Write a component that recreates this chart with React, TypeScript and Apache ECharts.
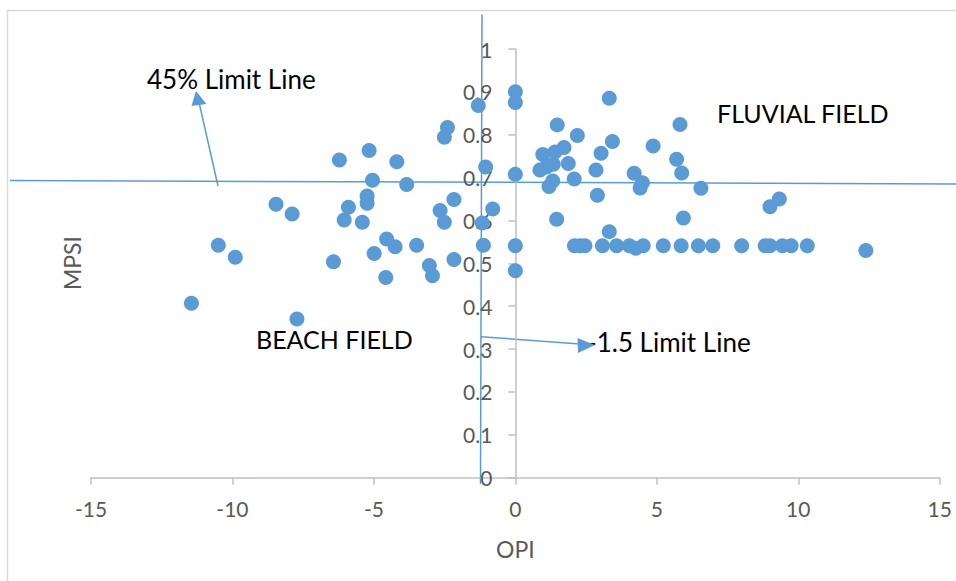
import React, { useEffect, useRef } from "react";
import * as echarts from "echarts";

// OPI (x) values
const opi: number[] = [
  // beach field side
  -11.45, -10.5, -9.9, -7.72, -8.46, -7.89, -6.22, -5.17, -4.19, -5.05, -3.84, -2.4, -2.51, -1.31,
  -2.17, -2.66, -2.51, -5.24, -5.24, -5.9, -6.05, -5.41, -4.55, -4.25, -3.49, -4.99, -6.43, -4.58,
  -3.04, -2.93, -2.17, -1.05, -0.8, -1.17, -1.13,
  // zero column
  0, 0, 0, 0, 0,
  // fluvial field side
  0.97, 1.4, 1.72, 0.87, 1.34, 1.1, 1.48, 2.19, 1.87, 2.08, 1.32, 1.19, 1.46, 2.85, 3.03, 3.43,
  3.32, 2.9, 3.32, 4.2, 4.49, 4.41, 4.87, 5.7, 5.82, 5.88, 6.56, 5.94, 9.0, 9.33,
  // bottom row
  2.09, 2.29, 2.46, 3.08, 3.58, 4.03, 4.26, 4.52, 5.23, 5.86, 6.47, 6.98, 8.0, 8.83, 9.0, 9.44,
  9.75, 10.32, 12.39,
];

// MPSI (y) values
const mpsi: number[] = [
  0.407, 0.542, 0.514, 0.37, 0.638, 0.615, 0.741, 0.763, 0.737, 0.694, 0.684, 0.817, 0.794, 0.868,
  0.649, 0.623, 0.596, 0.657, 0.64, 0.631, 0.601, 0.596, 0.557, 0.539, 0.542, 0.523, 0.504, 0.467,
  0.495, 0.471, 0.509, 0.725, 0.627, 0.594, 0.542,
  0.9, 0.875, 0.708, 0.541, 0.483,
  0.754, 0.76, 0.77, 0.718, 0.731, 0.725, 0.823, 0.798, 0.733, 0.697, 0.692, 0.679, 0.603, 0.718,
  0.757, 0.784, 0.885, 0.659, 0.574, 0.71, 0.688, 0.676, 0.774, 0.743, 0.824, 0.711, 0.675, 0.606,
  0.632, 0.65,
  0.541, 0.541, 0.541, 0.541, 0.541, 0.541, 0.535, 0.541, 0.541, 0.541, 0.541, 0.541, 0.541, 0.541,
  0.541, 0.541, 0.541, 0.541, 0.53,
];

const xTicks = { min: -15, max: 15, interval: 5 };
const yTicks = { min: 0, max: 1, interval: 0.1 };

const xTitle = "OPI";
const yTitle = "MPSI";
const annotations = {
  limit45: "45% Limit Line",
  limit15: "-1.5 Limit Line",
  fluvial: "FLUVIAL FIELD",
  beach: "BEACH FIELD",
};

const FONT = "Lato, 'Open Sans', sans-serif";
const BLUE = "#5B9BD5";
const GREY_TEXT = "#595959";
const AXIS_GREY = "#BFBFBF";

const GRID_LEFT = 91;
const GRID_RIGHT = 16.3;

export default function App() {
  const ref = useRef<HTMLDivElement>(null);

  useEffect(() => {
    if (!ref.current) return;
    const chart = echarts.init(ref.current, undefined, { renderer: "svg" });
    const data = opi.map((x, i) => [x, mpsi[i]]);
    // place the y axis where x = 0 (crossing axes, as in the source chart)
    const plotW = 956 - GRID_LEFT - GRID_RIGHT;
    const zeroOffset = ((0 - xTicks.min) / (xTicks.max - xTicks.min)) * plotW;
    const annoText = (text: string, x: number, y: number, size = 26) => ({
      type: "text",
      x,
      y,
      z: 10,
      style: {
        text,
        fill: "#000000",
        font: `${size}px ${FONT}`,
        textAlign: "left",
        textVerticalAlign: "middle",
      },
    });
    chart.setOption({
      animation: false,
      backgroundColor: "#ffffff",
      grid: { left: GRID_LEFT, right: GRID_RIGHT, top: 49, bottom: 103.3, containLabel: false },
      xAxis: {
        type: "value",
        min: xTicks.min,
        max: xTicks.max,
        interval: xTicks.interval,
        name: xTitle,
        nameLocation: "middle",
        nameGap: 60,
        nameTextStyle: { color: GREY_TEXT, fontSize: 23, fontFamily: FONT },
        axisLine: { show: true, onZero: true, lineStyle: { color: AXIS_GREY, width: 1.5 } },
        axisTick: { show: true, inside: false, length: 7, lineStyle: { color: AXIS_GREY, width: 1.5 } },
        axisLabel: { color: GREY_TEXT, fontSize: 21, fontFamily: FONT, margin: 20 },
        splitLine: { show: false },
      },
      yAxis: {
        type: "value",
        position: "left",
        offset: -zeroOffset,
        min: yTicks.min,
        max: yTicks.max,
        interval: yTicks.interval,
        axisLine: { show: true, onZero: false, lineStyle: { color: AXIS_GREY, width: 1.5 } },
        axisTick: { show: true, inside: false, length: 7, lineStyle: { color: AXIS_GREY, width: 1.5 } },
        axisLabel: { color: GREY_TEXT, fontSize: 21, fontFamily: FONT, margin: 23 },
        splitLine: { show: false },
      },
      series: [
        {
          type: "scatter",
          data,
          symbol: "circle",
          symbolSize: 15,
          itemStyle: { color: BLUE, opacity: 1 },
          z: 3,
        },
      ],
      graphic: [
        {
          type: "rect",
          z: -1,
          shape: { x: 7.5, y: 10.5, width: 1000, height: 1000 },
          style: { fill: "none", stroke: "#D9D9D9", lineWidth: 1.5 },
        },
        {
          type: "line",
          shape: { x1: 10, y1: 180.5, x2: 956, y2: 184 },
          style: { stroke: BLUE, lineWidth: 1.5 },
        },
        {
          type: "line",
          shape: { x1: 482, y1: 14.5, x2: 480.5, y2: 484 },
          style: { stroke: BLUE, lineWidth: 1.5 },
        },
        {
          type: "line",
          shape: { x1: 218, y1: 186, x2: 198.5, y2: 100 },
          style: { stroke: BLUE, lineWidth: 1.5 },
        },
        {
          type: "polygon",
          z: 11,
          shape: { points: [[196, 91], [191.5, 106], [206.5, 104]] },
          style: { fill: BLUE },
        },
        {
          type: "line",
          shape: { x1: 481, y1: 336.7, x2: 580, y2: 344 },
          style: { stroke: BLUE, lineWidth: 1.5 },
        },
        {
          type: "polygon",
          z: 11,
          shape: { points: [[595, 345], [577.5, 338], [578, 353]] },
          style: { fill: BLUE },
        },
        annoText(annotations.limit45, 147, 79),
        annoText(annotations.limit15, 587, 342),
        annoText(annotations.fluvial, 717, 113, 25),
        annoText(annotations.beach, 256, 339, 25),
        {
          type: "text",
          x: 72,
          y: 263,
          rotation: Math.PI / 2,
          z: 10,
          style: {
            text: yTitle,
            fill: GREY_TEXT,
            font: `23px ${FONT}`,
            textAlign: "center",
            textVerticalAlign: "middle",
          },
        },
      ],
    });
    return () => chart.dispose();
  }, []);

  return (
    <div
      ref={ref}
      style={{ position: "fixed", left: 0, top: 0, width: 956, height: 581 }}
    />
  );
}
